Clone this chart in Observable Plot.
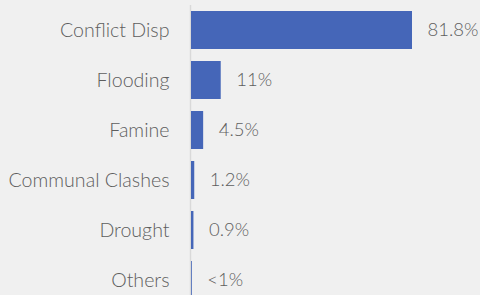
<!DOCTYPE html>
<html>
<head>
<meta charset="utf-8">
<script src="https://cdn.jsdelivr.net/npm/d3@7"></script>
<script src="https://cdn.jsdelivr.net/npm/@observablehq/plot@0.6"></script>
<style>
  html, body { margin: 0; padding: 0; background: #f0f0f0; }
  svg { display: block; }
</style>
</head>
<body>
<div id="chart"></div>
<script>
const categories = ["Conflict Disp", "Flooding", "Famine", "Communal Clashes", "Drought", "Others"];
const values = [81.8, 11, 4.5, 1.2, 0.9, 0.3];
const valueLabels = ["81.8%", "11%", "4.5%", "1.2%", "0.9%", "<1%"];

const data = categories.map((c, i) => ({category: c, value: values[i], label: valueLabels[i]}));

const chart = Plot.plot({
  width: 480,
  height: 295,
  marginLeft: 191,
  marginRight: 0,
  marginTop: 5,
  marginBottom: 0,
  style: {background: "#f0f0f0", fontFamily: "Lato", fontSize: "19.6px", color: "#5e5e5e", fontWeight: 300},
  x: {domain: [0, 81.8], range: [191, 412], axis: null},
  y: {domain: categories, range: [3.7, 306.1], paddingInner: 0.25, paddingOuter: 0.125, axis: null},
  marks: [
    Plot.ruleX([0], {stroke: "#d9d9d9", strokeWidth: 1.5, dx: -1}),
    Plot.barX(data, {x: "value", y: "category", fill: "#4566b8"}),
    Plot.text(data, {x: "value", y: "category", text: "label", textAnchor: "start", dx: 15, fill: "#5e5e5e", fontSize: 18.5}),
    Plot.axisY({tickSize: 0, tickPadding: 22, fontSize: 19.6, label: null})
  ]
});
document.getElementById("chart").appendChild(chart);
</script>
</body>
</html>
